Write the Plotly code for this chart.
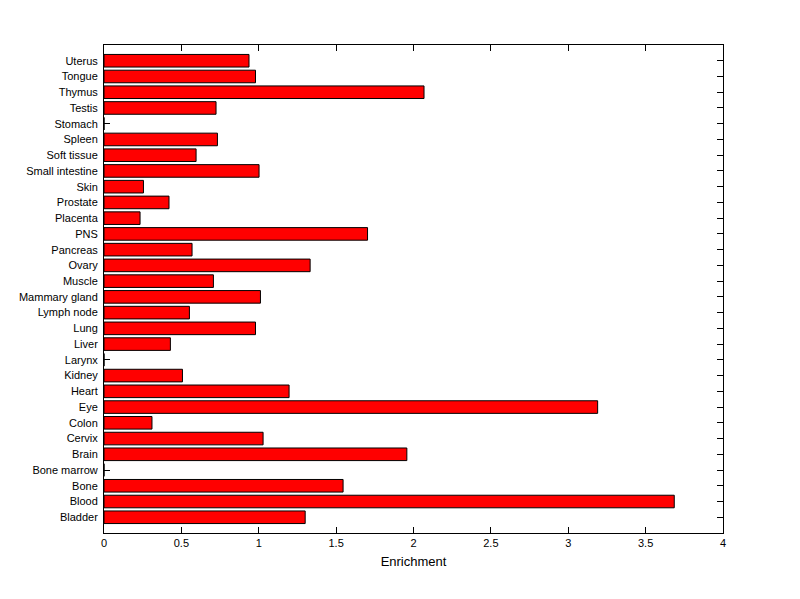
import plotly.graph_objects as go

categories = ["Bladder", "Blood", "Bone", "Bone marrow", "Brain", "Cervix", "Colon", "Eye",
              "Heart", "Kidney", "Larynx", "Liver", "Lung", "Lymph node", "Mammary gland",
              "Muscle", "Ovary", "Pancreas", "PNS", "Placenta", "Prostate", "Skin",
              "Small intestine", "Soft tissue", "Spleen", "Stomach", "Testis", "Thymus",
              "Tongue", "Uterus"]
enrichment = [1.30, 3.685, 1.545, 0.0, 1.957, 1.028, 0.31, 3.19,
              1.196, 0.507, 0.0, 0.429, 0.979, 0.552, 1.011,
              0.707, 1.332, 0.569, 1.703, 0.233, 0.42, 0.255,
              1.002, 0.595, 0.733, 0.0, 0.724, 2.068,
              0.979, 0.937]
x_ticks = [0, 0.5, 1, 1.5, 2, 2.5, 3, 3.5, 4]
x_tick_labels = ["0", "0.5", "1", "1.5", "2", "2.5", "3", "3.5", "4"]

fig = go.Figure(go.Bar(
    x=enrichment, y=categories, orientation="h", width=0.8,
    marker=dict(color="#ff0000", line=dict(color="black", width=1)),
))

font = dict(family="Liberation Sans, Arial, sans-serif", size=11, color="black")
fig.update_layout(
    width=800, height=599,
    margin=dict(l=96, r=85, t=37, b=74),
    paper_bgcolor="white", plot_bgcolor="white",
    font=font, showlegend=False,
    xaxis=dict(range=[0, 4], tickvals=x_ticks, ticktext=x_tick_labels,
               ticks="inside", ticklen=6, tickcolor="black", showline=True,
               linecolor="black", linewidth=1, mirror="ticks", showgrid=False,
               zeroline=False, title=dict(text="Enrichment", standoff=8),
               tickfont=font, automargin=False),
    yaxis=dict(type="category", categoryorder="array", categoryarray=categories,
               range=[-1, 30], ticks="inside", ticklen=6, tickcolor="black",
               showline=True, linecolor="black", linewidth=1, mirror="ticks",
               showgrid=False, zeroline=False, layer="below traces",
               tickfont=font, ticklabelstandoff=3, automargin=False),
)
fig.write_html("out.html")
